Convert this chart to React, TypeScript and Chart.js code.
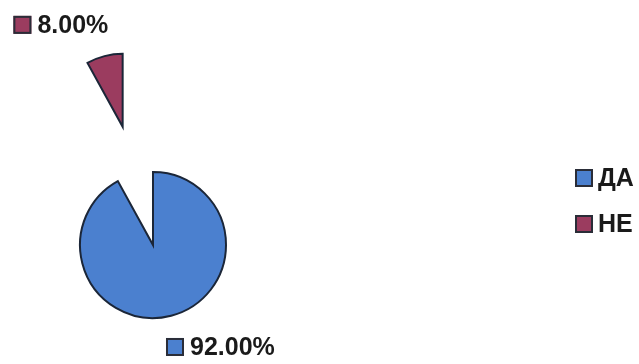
import React, { useEffect, useRef } from 'react';
import { Chart, registerables } from 'chart.js';

Chart.register(...registerables);

// ---- data ----
const categories: string[] = ['ДА', 'НЕ'];
const values: number[] = [92, 8];
const sliceColors: string[] = ['#4b80cf', '#9b3c5f'];

// ---- style constants ----
const W = 639;
const H = 364;
const FONT = 'bold 25px "Liberation Sans", Arial, sans-serif';
const TEXT_COLOR = '#1a1a1a';
const BORDER = '#1b2638';
const BOX = 18;
const GAP = 6;

function drawKey(ctx: CanvasRenderingContext2D, x: number, y: number, color: string) {
  ctx.fillStyle = color;
  ctx.fillRect(x, y, BOX, BOX);
  ctx.lineWidth = 2;
  ctx.strokeStyle = '#2a2d38';
  ctx.strokeRect(x + 1, y + 1, BOX - 2, BOX - 2);
}

const explodePlugin = {
  id: 'explode',
  afterDatasetsUpdate(chart: any, _args: any, opts: any) {
    const meta = chart.getDatasetMeta(0);
    const dist: number[] = (opts && opts.distances) || [];
    meta.data.forEach((arc: any, i: number) => {
      const d = dist[i] || 0;
      if (!d) return;
      const mid = (arc.startAngle + arc.endAngle) / 2;
      arc.x += Math.cos(mid) * d;
      arc.y += Math.sin(mid) * d;
    });
  },
};

const labelPlugin = {
  id: 'sliceLabels',
  afterDatasetsDraw(chart: any, _args: any, opts: any) {
    const ctx: CanvasRenderingContext2D = chart.ctx;
    const meta = chart.getDatasetMeta(0);
    const ds = chart.data.datasets[0];
    const data: number[] = ds.data;
    const colors: string[] = ds.backgroundColor;
    const total = data.reduce((a, b) => a + b, 0);
    ctx.save();
    ctx.font = FONT;
    ctx.textBaseline = 'middle';
    ctx.textAlign = 'left';
    meta.data.forEach((arc: any, i: number) => {
      const mid = (arc.startAngle + arc.endAngle) / 2;
      const dx = Math.cos(mid);
      const dy = Math.sin(mid);
      const r = arc.outerRadius + 23;
      const px = arc.x + dx * r;
      const py = arc.y + dy * r;
      const text = ((data[i] / total) * 100).toFixed(2) + '%';
      const tw = ctx.measureText(text).width;
      const w = BOX + GAP + tw;
      const left = px - w / 2 + Math.sign(dx) * w * 0.4;
      const cy = dy > 0 ? py + BOX / 2 : py - BOX / 2;
      drawKey(ctx, left, cy - BOX / 2, colors[i]);
      ctx.fillStyle = TEXT_COLOR;
      ctx.fillText(text, left + BOX + GAP, cy + 1);
    });

    // legend
    const lx = opts.x;
    let ly = opts.y;
    chart.data.labels.forEach((lab: string, i: number) => {
      drawKey(ctx, lx, ly - BOX / 2, colors[i]);
      ctx.fillStyle = TEXT_COLOR;
      ctx.fillText(lab, lx + BOX + 5, ly + 1);
      ly += opts.rowGap;
    });
    ctx.restore();
  },
};

export default function App() {
  const ref = useRef<HTMLCanvasElement | null>(null);

  useEffect(() => {
    if (!ref.current) return;
    const chart = new Chart(ref.current, {
      type: 'pie',
      data: {
        labels: categories,
        datasets: [
          {
            data: values,
            backgroundColor: sliceColors,
            borderColor: BORDER,
            borderWidth: 2,
            borderJoinStyle: 'miter',
            clip: false,
          } as any,
        ],
      },
      options: {
        responsive: false,
        animation: false,
        events: [],
        radius: 73,
        layout: { padding: { left: 0, right: 333, top: 126, bottom: 0 } },
        plugins: {
          legend: { display: false },
          tooltip: { enabled: false },
          explode: { distances: [0, 122] },
          sliceLabels: { x: 575, y: 178, rowGap: 46 },
        } as any,
      } as any,
      plugins: [explodePlugin, labelPlugin],
    });
    return () => chart.destroy();
  }, []);

  return (
    <div style={{ position: 'fixed', left: 0, top: 0, width: W, height: H, background: '#fff' }}>
      <canvas ref={ref} width={W} height={H} style={{ display: 'block' }} />
    </div>
  );
}
